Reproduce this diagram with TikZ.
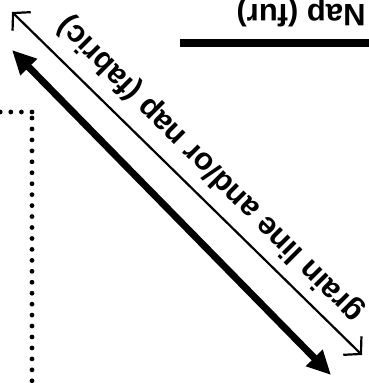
\documentclass[tikz,border=0pt]{standalone}
\usepackage{fontspec}
\setmainfont{Liberation Sans}
\usepackage{tikz}
\usetikzlibrary{arrows.meta}

\begin{document}
\begin{tikzpicture}[x=1pt,y=-1pt]
\useasboundingbox (0,0) rectangle (368,383);

% fur nap
\coordinate (furA) at (180,43);
\coordinate (furB) at (370,43);
\draw[line width=7.5pt] (furA) -- (furB);
\node[rotate=180,anchor=base,inner sep=0pt,font=\fontsize{31}{36}\selectfont\bfseries] (furlabel) at (301,4) {Nap (fur)};

% pattern edge
\coordinate (edgeA) at (32,112);
\coordinate (edgeB) at (0,112);
\coordinate (edgeC) at (32,118);
\coordinate (edgeD) at (32,390);
\draw[line width=4.8pt,line cap=round,dash pattern=on 0pt off 10.6pt] (edgeA) -- (edgeB);
\draw[line width=4.8pt,line cap=round,dash pattern=on 0pt off 10.95pt] (edgeC) -- (edgeD);

% grain line
\coordinate (grainA) at (12,12);
\coordinate (grainB) at (362,355);
\draw[{Straight Barb[length=12pt,width=26pt]}-{Straight Barb[length=12pt,width=26pt]},line width=2.2pt] (grainA) -- (grainB);
\node[rotate=135,inner sep=0pt,font=\fontsize{31}{36}\selectfont\bfseries] (grainlabel) at (211,169) {grain line and/or nap (fabric)};

\coordinate (napA) at (12,50);
\coordinate (napB) at (331,375);
\draw[{Triangle[length=24pt,width=22pt]}-{Triangle[length=24pt,width=22pt]},line width=7pt] (napA) -- (napB);
\end{tikzpicture}
\end{document}
